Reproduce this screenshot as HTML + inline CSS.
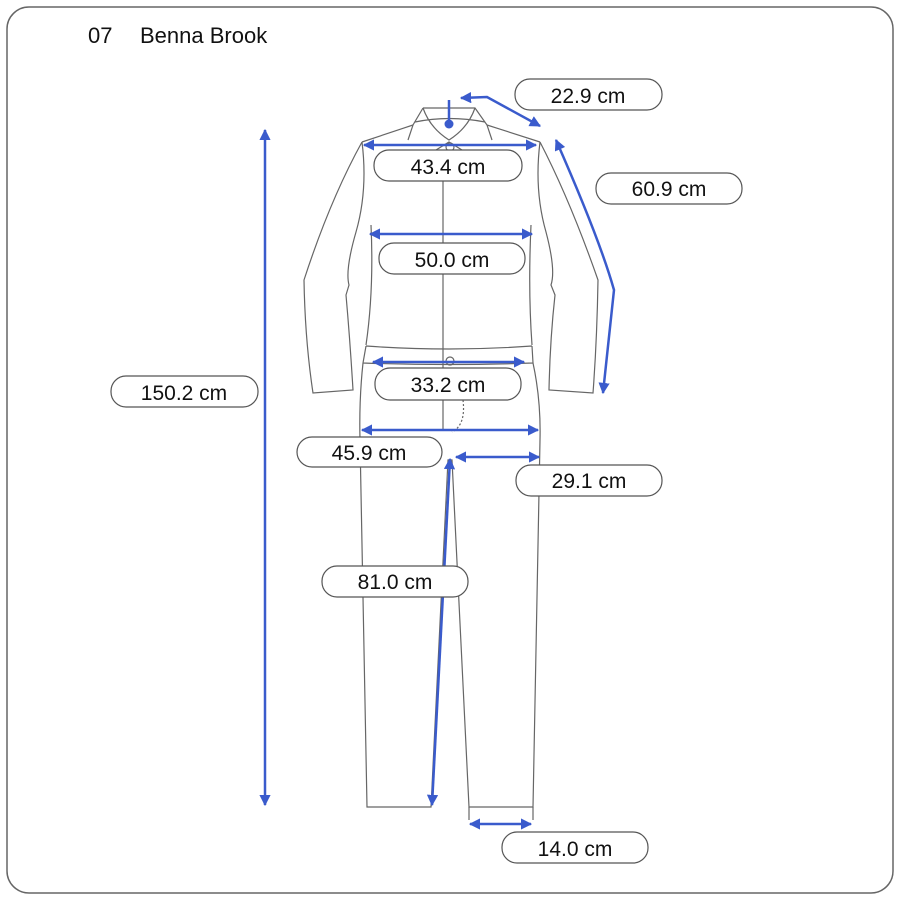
<!DOCTYPE html>
<html><head><meta charset="utf-8"><style>
body{margin:0;background:#fff}
svg{display:block}
text{font-family:"Liberation Sans","DejaVu Sans",sans-serif;fill:#111}
</style></head><body>
<svg width="900" height="900" viewBox="0 0 900 900" xmlns="http://www.w3.org/2000/svg">
<defs>
<marker id="a" viewBox="0 0 10 10" refX="9" refY="5" markerWidth="4.5" markerHeight="4.5" orient="auto-start-reverse"><path d="M0,0L10,5L0,10z" fill="#3a5bcc"/></marker>
</defs>
<rect x="7" y="7" width="886" height="886" rx="22" fill="#fff" stroke="#666" stroke-width="1.5"/>
<text x="88" y="43" font-size="22">07</text>
<text x="140" y="43" font-size="22">Benna Brook</text>

<g fill="none" stroke="#666" stroke-width="1.2">
<path d="M423,108 L475,108 L487,125 L492,140 M423,108 L413,125 L408,140"/>
<path d="M415,122 Q449,115 485,122 M423,108 Q430,128 449,140 Q468,128 475,108"/>
<path d="M436,150 L449,142 L462,150"/>
<circle cx="450" cy="147" r="4"/>
<path d="M413,125 L362,142 M487,125 L540,142"/>
<path d="M362,142 Q330,200 304,280 Q305,340 313,393 L353,390 Q350,340 346,295 L349,285 Q345,270 356,232 Q368,190 362,142"/>
<path d="M371,225 Q374,290 366,345"/>
<path d="M540,142 Q570,200 598,280 Q597,340 593,393 L549,390 Q550,340 555,295 L551,285 Q556,270 546,232 Q534,190 540,142"/>
<path d="M531,225 Q528,290 532,345"/>
<path d="M443,150 L443,430"/>
<path d="M366,346 Q449,352 532,346 M363,363 Q449,366 533,363 M366,346 L363,363 M532,346 L533,363"/>
<circle cx="450" cy="361" r="4"/>
<path d="M363,363 Q359,400 360,440 L367,807 L431,807 L448,460 L452,460 L469,807 L533,807 L540,440 Q541,400 533,363"/>
<path d="M469,807 L469,820 M533,807 L533,820"/>
<path d="M463,400 Q466,425 452,432" stroke-dasharray="2,2"/>
</g>

<g fill="none" stroke="#3a5bcc" stroke-width="2.5" marker-start="url(#a)" marker-end="url(#a)">
<line x1="265" y1="130" x2="265" y2="805"/>
<line x1="364" y1="145" x2="536" y2="145"/>
<line x1="370" y1="234" x2="532" y2="234"/>
<line x1="373" y1="362" x2="524" y2="362"/>
<line x1="362" y1="430" x2="538" y2="430"/>
<line x1="456" y1="457" x2="539" y2="457"/>
<line x1="450" y1="459" x2="432" y2="805"/>
<line x1="470" y1="824" x2="531" y2="824"/>
<path d="M556,140 Q600,240 614,290 L603,393"/>
<polyline points="461,98 487,97 540,126"/>
</g>
<line x1="449" y1="100" x2="449" y2="122" stroke="#3a5bcc" stroke-width="2.5"/>
<circle cx="449" cy="124" r="4.5" fill="#3a5bcc"/>

<g fill="#fff" stroke="#555" stroke-width="1.2">
<rect x="515" y="79" width="147" height="31" rx="15"/>
<rect x="374" y="150" width="148" height="31" rx="15"/>
<rect x="596" y="173" width="146" height="31" rx="15"/>
<rect x="379" y="243" width="146" height="31" rx="15"/>
<rect x="111" y="376" width="147" height="31" rx="15"/>
<rect x="375" y="368" width="146" height="32" rx="15"/>
<rect x="297" y="437" width="145" height="30" rx="15"/>
<rect x="516" y="465" width="146" height="31" rx="15"/>
<rect x="322" y="566" width="146" height="31" rx="15"/>
<rect x="502" y="832" width="146" height="31" rx="15"/>
</g>
<g font-size="21" text-anchor="middle">
<text x="588" y="103">22.9 cm</text>
<text x="448" y="174">43.4 cm</text>
<text x="669" y="196">60.9 cm</text>
<text x="452" y="267">50.0 cm</text>
<text x="184" y="400">150.2 cm</text>
<text x="448" y="392">33.2 cm</text>
<text x="369" y="460">45.9 cm</text>
<text x="589" y="488">29.1 cm</text>
<text x="395" y="589">81.0 cm</text>
<text x="575" y="856">14.0 cm</text>
</g>
</svg>
</body></html>
